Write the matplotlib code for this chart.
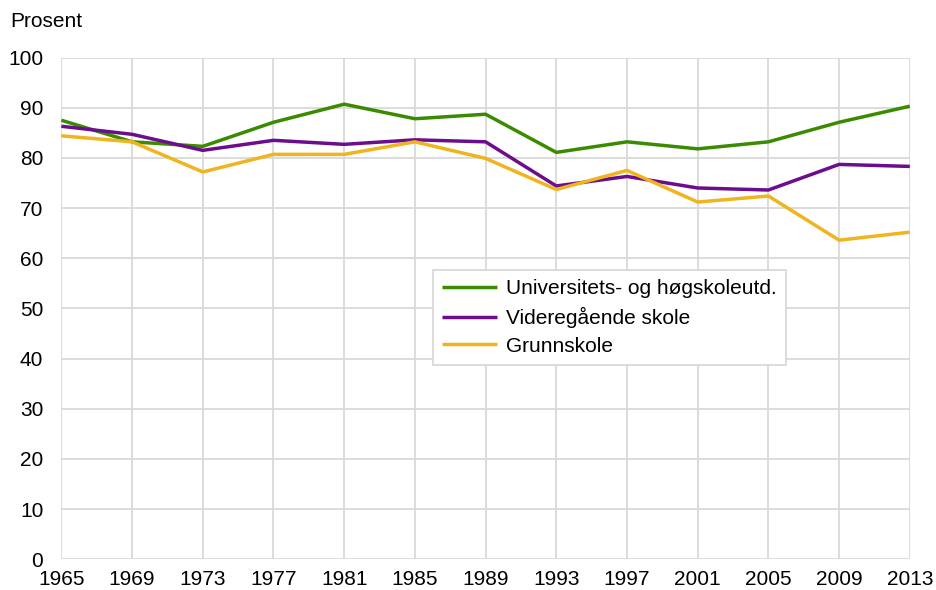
import matplotlib
matplotlib.use("Agg")
import matplotlib.pyplot as plt

# ----------------------------------------------------------------------------------------------------------------------
#  DATA
# ----------------------------------------------------------------------------------------------------------------------
years = [1965, 1969, 1973, 1977, 1981, 1985, 1989, 1993, 1997, 2001, 2005, 2009, 2013]

universitet = [87.5, 83.2, 82.3, 87.1, 90.7, 87.8, 88.7, 81.1, 83.2, 81.8, 83.2, 87.1, 90.3]
videregaende = [86.3, 84.7, 81.5, 83.5, 82.7, 83.6, 83.2, 74.4, 76.3, 74.0, 73.6, 78.7, 78.3]
grunnskole = [84.4, 83.2, 77.2, 80.7, 80.7, 83.2, 79.9, 73.7, 77.5, 71.2, 72.4, 63.6, 65.2]

labels = ["Universitets- og høgskoleutd.", "Videregående skole", "Grunnskole"]
colors = ["#3b8b00", "#6b0d8c", "#efb41e"]

# ----------------------------------------------------------------------------------------------------------------------
#  PLOT
# ----------------------------------------------------------------------------------------------------------------------
fs = 15
plt.rcParams["font.family"] = ["Liberation Sans", "DejaVu Sans"]
plt.rcParams["font.size"] = fs

fig = plt.figure(figsize=(9.37, 5.9), dpi=100)
ax = fig.add_axes([0.0655, 0.052, 0.9055, 0.8505])

for series, name, col in zip([universitet, videregaende, grunnskole], labels, colors):
    ax.plot(years, series, color=col, linewidth=2.5, label=name, solid_capstyle="butt", zorder=3)

ax.set_xlim(1965, 2013)
ax.set_ylim(0, 100)
ax.set_xticks(years)
ax.set_yticks(range(0, 101, 10))
ax.grid(True, color="#d9d9d9", linewidth=1.3)
ax.set_axisbelow(True)
for s in ax.spines.values():
    s.set_visible(False)
ax.tick_params(length=0, labelsize=fs)
ax.tick_params(axis="x", pad=8)
ax.tick_params(axis="y", pad=13)

fig.text(0.011, 0.963, "Prosent", fontsize=fs, ha="left", va="center")

leg = ax.legend(loc="upper left", bbox_to_anchor=(0.438, 0.577), frameon=True, fancybox=False,
                edgecolor="#d9d9d9", framealpha=1, handlelength=2.6, handletextpad=0.45,
                borderpad=0.45, labelspacing=0.42, fontsize=fs, borderaxespad=0)
leg.get_frame().set_linewidth(1.3)

fig.savefig("out.png", dpi=100)
